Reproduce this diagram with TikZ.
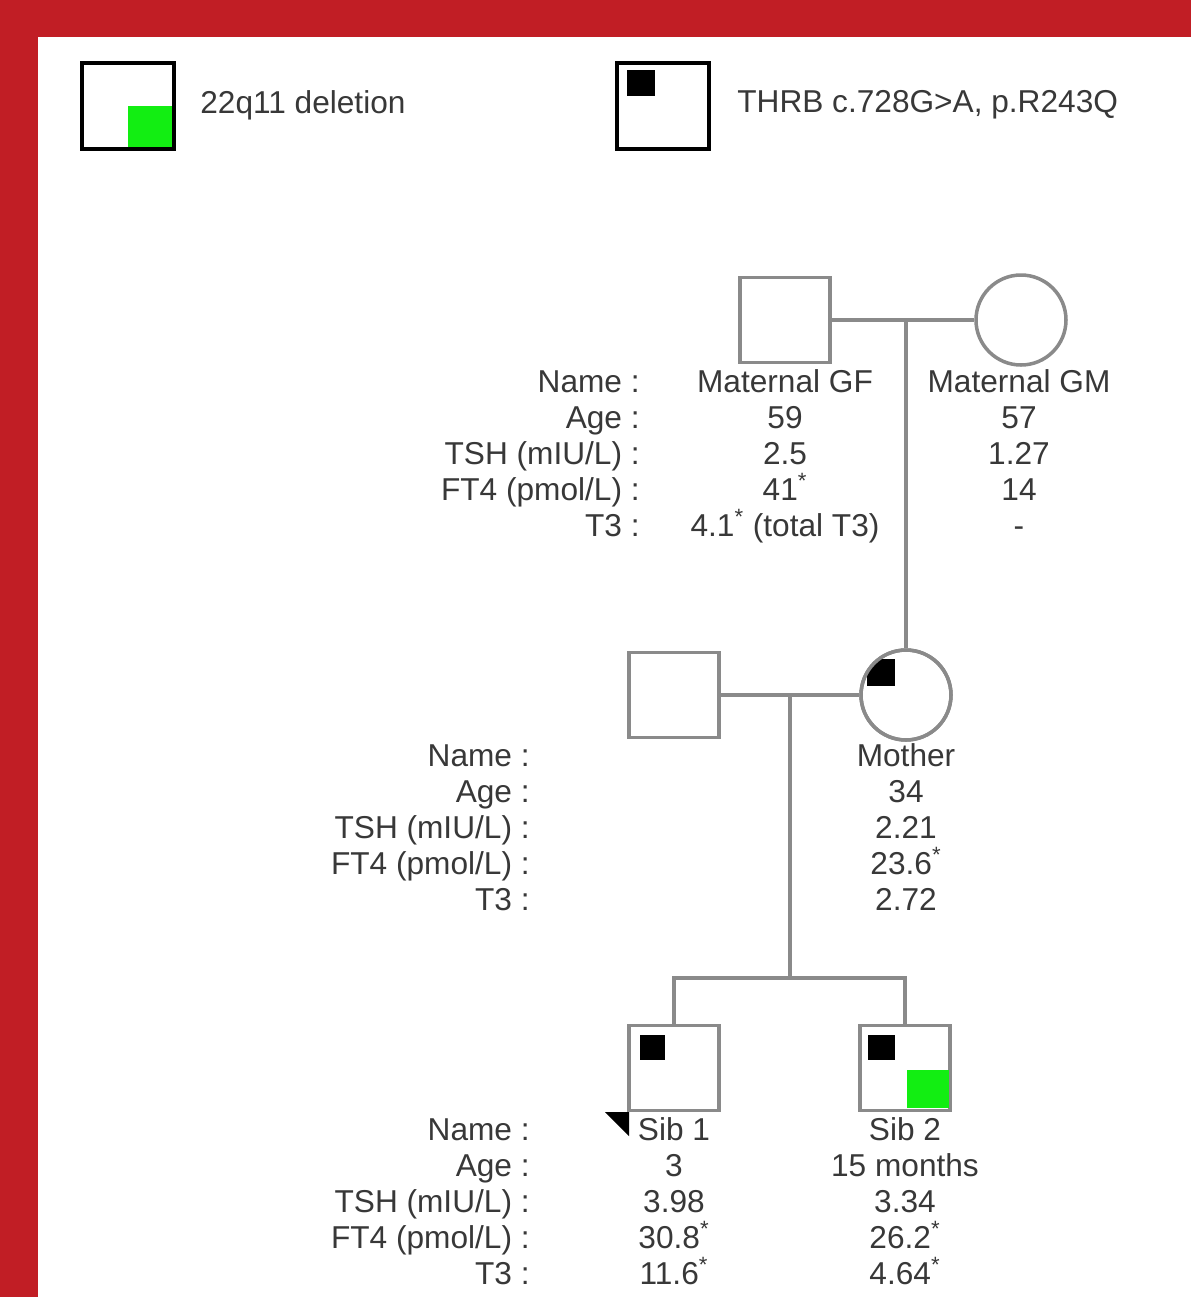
\documentclass[tikz,border=0pt]{standalone}
\usepackage{fontspec}
\setmainfont{Liberation Sans}
\usepackage{xcolor}
\usepackage{tikz}
\usetikzlibrary{calc}
\definecolor{pedred}{HTML}{C11E25}
\definecolor{pedgray}{HTML}{8A8A8A}
\definecolor{pedtext}{HTML}{383838}
\definecolor{pedgreen}{HTML}{12EE12}
\newcommand{\sigm}{\textsuperscript{*}}
\tikzset{
  male/.style={draw=pedgray, line width=2pt, fill=white, minimum width=18mm,
    minimum height=17mm, inner sep=0pt},
  female/.style={draw=pedgray, line width=2pt, fill=white, circle,
    minimum size=18mm, inner sep=0pt},
  legendbox/.style={draw=black, line width=2pt, minimum width=18.4mm,
    minimum height=17.2mm, inner sep=0pt},
  pedline/.style={draw=pedgray, line width=2pt},
  info/.style={font=\fontsize{18}{21}\selectfont, text=pedtext, inner sep=0pt}
}

\begin{document}
\begin{tikzpicture}[x=0.2mm,y=-0.2mm]
  \useasboundingbox (0,0) rectangle (1191,1297);
  \fill[pedred] (0,0) rectangle (1191,37);
  \fill[pedred] (0,0) rectangle (38,1297);

  % legend
  \node[legendbox] (lgdel) at (128,106) {};
  \fill[pedgreen] (128,106) rectangle (172,147);
  \draw[line width=2pt] (82,63) rectangle (174,149);
  \node[info, anchor=west] (lgdeltext) at (200,105) {22q11 deletion};
  \node[legendbox] (lgthrb) at (663,106) {};
  \fill[black] (627,70) rectangle (655,96);
  \node[info, anchor=west] (lgthrbtext) at (737,105) {THRB c.728G>A, p.R243Q};

  % symbols
  \node[male] (gf) at (785,320) {};
  \node[female] (gm) at (1021,320) {};
  \node[male] (fa) at (674,695) {};
  \node[female] (mo) at (906,695) {};
  \begin{scope}
    \clip (906,695) circle (9mm);
    \fill[black] (867,659) rectangle (895,686);
  \end{scope}
  \node[female, fill=none] (moring) at (906,695) {};
  \node[male] (s1) at (674,1068) {};
  \fill[black] (640,1035) rectangle (665,1060);
  \node[male] (s2) at (905,1068) {};
  \fill[black] (868,1035) rectangle (895,1060);
  \fill[pedgreen] (907,1070) rectangle (949,1108);
  \fill[black] (605,1112) -- (629,1112) -- (629,1136) -- cycle;

  % lines of descent
  \coordinate (gfgm) at (906,320);
  \coordinate (famo) at (790,695);
  \coordinate (sibs) at (790,978);
  \draw[pedline] (gf.east) -- (gm.west);
  \draw[pedline] (gfgm) -- (mo.north);
  \draw[pedline] (fa.east) -- (mo.west);
  \draw[pedline] (famo) -- (sibs);
  \draw[pedline] (s1.north) |- (sibs) -| (s2.north);

  % data
  \foreach \lab [count=\i from 0] in {Name :,Age :,TSH (mIU/L) :,FT4 (pmol/L) :,T3 :} {
    \node[info, anchor=base east] (gplab\i) at (640,392+36*\i) {\lab};
    \node[info, anchor=base east] (palab\i) at (530,766+36*\i) {\lab};
    \node[info, anchor=base east] (silab\i) at (530,1140+36*\i) {\lab};
  }
  \foreach \val [count=\i from 0] in {Maternal GF,59,2.5,{41\sigm},{4.1\sigm{} (total T3)}}
    \node[info, anchor=base] (gfval\i) at (785,392+36*\i) {\val};
  \foreach \val [count=\i from 0] in {Maternal GM,57,1.27,14,-}
    \node[info, anchor=base] (gmval\i) at (1019,392+36*\i) {\val};
  \foreach \val [count=\i from 0] in {Mother,34,2.21,{23.6\sigm},2.72}
    \node[info, anchor=base] (moval\i) at (906,766+36*\i) {\val};
  \foreach \val [count=\i from 0] in {Sib 1,3,3.98,{30.8\sigm},{11.6\sigm}}
    \node[info, anchor=base] (saval\i) at (674,1140+36*\i) {\val};
  \foreach \val [count=\i from 0] in {Sib 2,15 months,3.34,{26.2\sigm},{4.64\sigm}}
    \node[info, anchor=base] (sbval\i) at (905,1140+36*\i) {\val};
\end{tikzpicture}
\end{document}
